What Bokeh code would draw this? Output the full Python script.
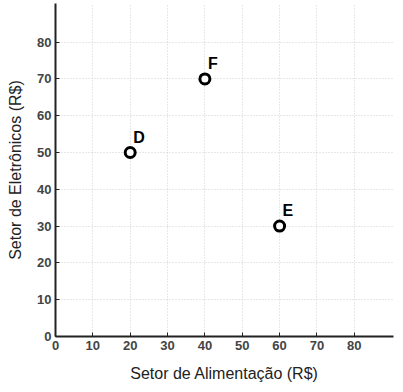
from bokeh.plotting import figure
from bokeh.models import Range1d, FixedTicker, ColumnDataSource
from bokeh.core.properties import value
from bokeh.embed import file_html
from bokeh.resources import INLINE

labels = ["D", "F", "E"]
alimentacao = [20, 40, 60]
eletronicos = [50, 70, 30]
ticks = [0, 10, 20, 30, 40, 50, 60, 70, 80]

src = ColumnDataSource(dict(x=alimentacao, y=eletronicos, t=labels))

p = figure(width=395, height=384, output_backend="svg", toolbar_location=None,
           x_range=Range1d(0, 90.5), y_range=Range1d(0, 90.5),
           min_border_left=55, min_border_bottom=42, min_border_right=2, min_border_top=3)
p.outline_line_color = None

for ax in (p.xaxis[0], p.yaxis[0]):
    ax.ticker = FixedTicker(ticks=ticks)
    ax.axis_line_color = "#222222"
    ax.axis_line_width = 2
    ax.major_tick_in = 4
    ax.major_tick_out = 0
    ax.major_tick_line_color = "#222222"
    ax.minor_tick_line_color = None
    ax.major_label_text_font = "Liberation Sans"
    ax.major_label_text_font_size = "13px"
    ax.major_label_text_color = "#444444"
    ax.major_label_text_font_style = "bold"
    ax.axis_label_text_font = "Liberation Sans"
    ax.axis_label_text_font_size = "16px"
    ax.axis_label_text_font_style = "normal"
    ax.axis_label_text_color = "#222222"

p.xaxis.axis_label = "Setor de Alimentação (R$)"
p.yaxis.axis_label = "Setor de Eletrônicos (R$)"
p.xaxis.major_label_standoff = 4
p.yaxis.major_label_standoff = 4
p.xaxis.axis_label_standoff = 12
p.yaxis.axis_label_standoff = 10

for g in (p.xgrid[0], p.ygrid[0]):
    g.grid_line_color = "#d0d0d0"
    g.grid_line_dash = "1 2"
    g.grid_line_width = 1
    g.ticker = FixedTicker(ticks=ticks)

p.scatter("x", "y", source=src, size=10, fill_color="white", line_color="black", line_width=3)
p.text("x", "y", text="t", source=src, x_offset=3, y_offset=-7,
       text_font=value("Liberation Sans"), text_font_style="bold",
       text_font_size="16px", text_color="black", text_baseline="bottom", text_align="left")

open("out.html", "w").write(file_html(p, INLINE))
